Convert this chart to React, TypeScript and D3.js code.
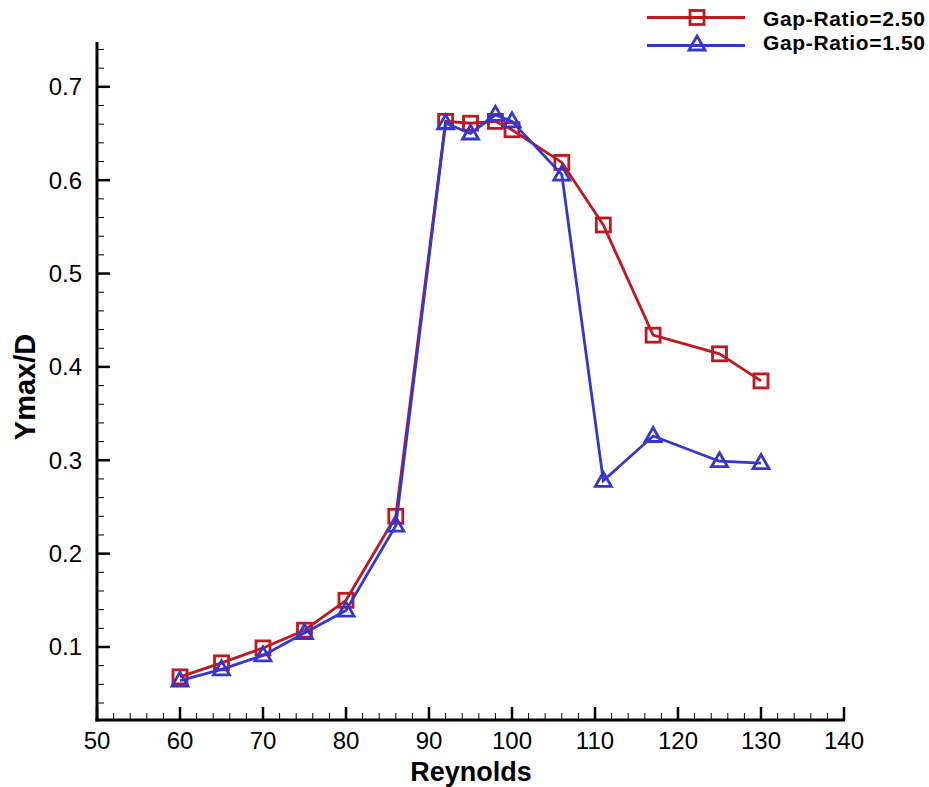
import React from "react";
import * as d3 from "d3";

const reynolds = [60, 65, 70, 75, 80, 86, 92, 95, 98, 100, 106, 111, 117, 125, 130];
const gap250 = [0.068, 0.083, 0.099, 0.118, 0.15, 0.24, 0.663, 0.661, 0.663, 0.654, 0.619, 0.552, 0.434, 0.414, 0.385];
const gap150 = [0.064, 0.076, 0.091, 0.115, 0.139, 0.23, 0.661, 0.65, 0.67, 0.663, 0.606, 0.278, 0.326, 0.299, 0.297];
const xTicks = [50, 60, 70, 80, 90, 100, 110, 120, 130, 140];
const yTicks = [0.1, 0.2, 0.3, 0.4, 0.5, 0.6, 0.7];
const seriesNames = ["Gap-Ratio=2.50", "Gap-Ratio=1.50"];

const W = 929;
const H = 787;
const RED = "#c0181c";
const BLUE = "#3535d0";

export default function App() {
  const x = d3.scaleLinear().domain([50, 140]).range([97, 844]);
  const y = d3.scaleLinear().domain([0.0218, 0.748]).range([720, 42]);
  const line = d3
    .line<[number, number]>()
    .x((d) => x(d[0]))
    .y((d) => y(d[1]));

  const xMinor = d3.range(50, 140.001, 2);
  const yMinor = d3.range(0.04, 0.7401, 0.02);

  const red: [number, number][] = reynolds.map((r, i) => [r, gap250[i]]);
  const blue: [number, number][] = reynolds.map((r, i) => [r, gap150[i]]);

  const square = (cx: number, cy: number, key: string | number, color: string) => (
    <rect key={key} x={cx - 7} y={cy - 7} width={14} height={14} fill="none" stroke={color} strokeWidth={2.8} />
  );
  const tri = (cx: number, cy: number, key: string | number, color: string) => (
    <path
      key={key}
      d={`M${cx},${cy - 8.5} L${cx + 8},${cy + 5.5} L${cx - 8},${cy + 5.5} Z`}
      fill="none"
      stroke={color}
      strokeWidth={2.8}
      strokeLinejoin="miter"
    />
  );

  const font = "'Liberation Sans', Arial, sans-serif";

  return (
    <svg width={W} height={H} style={{ position: "absolute", left: 0, top: 0, background: "#fff" }} fontFamily={font}>
      <rect width={W} height={H} fill="#fff" />
      {/* minor ticks */}
      {xMinor.map((v) => (
        <line key={"xm" + v} x1={x(v)} x2={x(v)} y1={720} y2={713} stroke="#000" strokeWidth={1} />
      ))}
      {yMinor.map((v) => (
        <line key={"ym" + v} x1={97} x2={104} y1={y(v)} y2={y(v)} stroke="#000" strokeWidth={1} />
      ))}
      {/* major ticks */}
      {xTicks.map((v) => (
        <line key={"xM" + v} x1={x(v)} x2={x(v)} y1={720} y2={707} stroke="#000" strokeWidth={2.5} />
      ))}
      {yTicks.map((v) => (
        <line key={"yM" + v} x1={97} x2={110} y1={y(v)} y2={y(v)} stroke="#000" strokeWidth={2.5} />
      ))}
      {/* axis lines */}
      <line x1={97} x2={97} y1={42} y2={721.5} stroke="#000" strokeWidth={3} />
      <line x1={95.5} x2={845} y1={720} y2={720} stroke="#000" strokeWidth={3} />
      {/* tick labels */}
      {xTicks.map((v) => (
        <text key={"xl" + v} x={x(v)} y={749} textAnchor="middle" fontSize={24} fill="#000">
          {v}
        </text>
      ))}
      {yTicks.map((v) => (
        <text key={"yl" + v} x={82} y={y(v) + 8.5} textAnchor="end" fontSize={24} fill="#000">
          {v.toFixed(1)}
        </text>
      ))}
      {/* axis titles */}
      <text x={471} y={781} textAnchor="middle" fontSize={27} fontWeight="bold" fill="#000">
        Reynolds
      </text>
      <text
        transform={`translate(35,${387}) rotate(-90)`}
        textAnchor="middle"
        fontSize={29}
        fontWeight="bold"
        fill="#000"
      >
        Ymax/D
      </text>
      {/* series */}
      <path d={line(red) ?? ""} fill="none" stroke={RED} strokeWidth={2.8} />
      {red.map((d, i) => square(x(d[0]), y(d[1]), "r" + i, RED))}
      <path d={line(blue) ?? ""} fill="none" stroke={BLUE} strokeWidth={2.8} />
      {blue.map((d, i) => tri(x(d[0]), y(d[1]), "b" + i, BLUE))}
      {/* legend */}
      <line x1={647} x2={745} y1={17.5} y2={17.5} stroke={RED} strokeWidth={2.8} />
      {square(697, 17.5, "lr", RED)}
      <text x={763} y={26} fontSize={21} fontWeight="bold" fill="#000" textLength={162} lengthAdjust="spacing">
        {seriesNames[0]}
      </text>
      <line x1={647} x2={745} y1={45.5} y2={45.5} stroke={BLUE} strokeWidth={2.8} />
      {tri(697, 44.5, "lb", BLUE)}
      <text x={763} y={50} fontSize={21} fontWeight="bold" fill="#000" textLength={162} lengthAdjust="spacing">
        {seriesNames[1]}
      </text>
    </svg>
  );
}
